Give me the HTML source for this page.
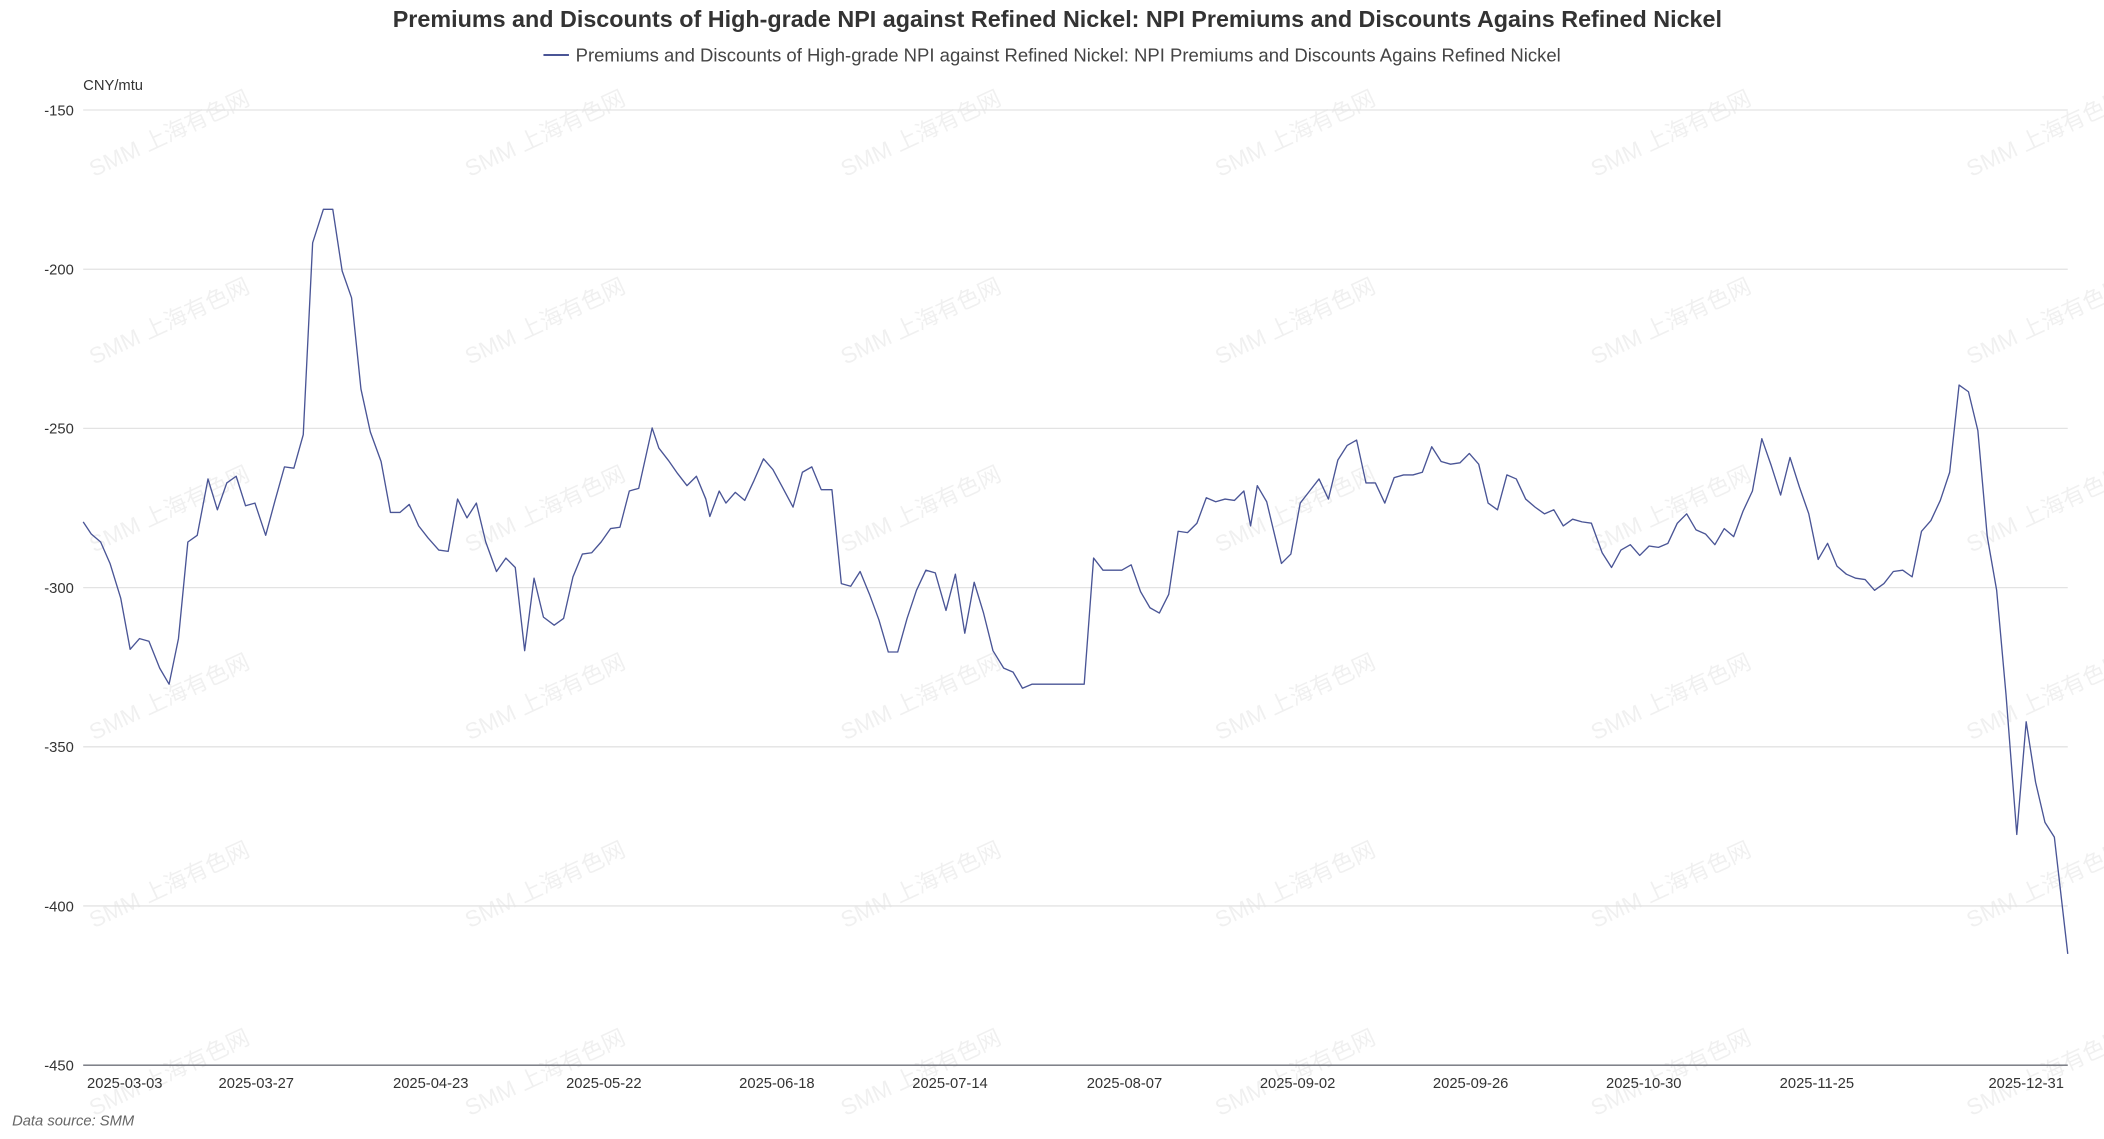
<!DOCTYPE html>
<html><head><meta charset="utf-8"><style>html,body{margin:0;padding:0;background:#fff}svg{display:block}</style></head>
<body>
<svg width="2104" height="1139" viewBox="0 0 1568 849" preserveAspectRatio="none" xmlns="http://www.w3.org/2000/svg" font-family="'Liberation Sans','Noto Sans CJK SC',sans-serif">
<g fill="#000" fill-opacity="0.06" font-size="17">
<g id="wm">
<text transform="translate(70,132) rotate(-25)">SMM 上海有色网</text>
<text transform="translate(70,272) rotate(-25)">SMM 上海有色网</text>
<text transform="translate(70,412) rotate(-25)">SMM 上海有色网</text>
<text transform="translate(70,552) rotate(-25)">SMM 上海有色网</text>
<text transform="translate(70,692) rotate(-25)">SMM 上海有色网</text>
<text transform="translate(70,832) rotate(-25)">SMM 上海有色网</text>
</g>
<use href="#wm" x="280"/><use href="#wm" x="560"/><use href="#wm" x="839"/><use href="#wm" x="1119"/><use href="#wm" x="1399"/>
</g>
<text x="788" y="20" text-anchor="middle" font-size="17.4" font-weight="bold" fill="#333">Premiums and Discounts of High-grade NPI against Refined Nickel: NPI Premiums and Discounts Agains Refined Nickel</text>
<line x1="405" y1="41" x2="424" y2="41" stroke="#4a5596" stroke-width="1.5"/>
<text x="429" y="46" font-size="13.8" fill="#444">Premiums and Discounts of High-grade NPI against Refined Nickel: NPI Premiums and Discounts Agains Refined Nickel</text>
<text x="62" y="67" font-size="11" fill="#333">CNY/mtu</text>
<g stroke="#e3e3e3" stroke-width="1">
<line x1="62" x2="1541" y1="82" y2="82"/><line x1="62" x2="1541" y1="200.7" y2="200.7"/><line x1="62" x2="1541" y1="319.3" y2="319.3"/><line x1="62" x2="1541" y1="438" y2="438"/><line x1="62" x2="1541" y1="556.7" y2="556.7"/><line x1="62" x2="1541" y1="675.3" y2="675.3"/>
</g>
<line x1="62" x2="1541" y1="794" y2="794" stroke="#6e7079" stroke-width="1"/>
<g font-size="11" fill="#333" text-anchor="end">
<text x="55" y="86">-150</text><text x="55" y="204.7">-200</text><text x="55" y="323.3">-250</text><text x="55" y="442">-300</text><text x="55" y="560.7">-350</text><text x="55" y="679.3">-400</text><text x="55" y="798">-450</text>
</g>
<g font-size="11" fill="#333" text-anchor="middle">
<text x="93" y="811">2025-03-03</text><text x="191" y="811">2025-03-27</text><text x="321" y="811">2025-04-23</text><text x="450" y="811">2025-05-22</text><text x="579" y="811">2025-06-18</text><text x="708" y="811">2025-07-14</text><text x="838" y="811">2025-08-07</text><text x="967" y="811">2025-09-02</text><text x="1096" y="811">2025-09-26</text><text x="1225" y="811">2025-10-30</text><text x="1354" y="811">2025-11-25</text><text x="1510" y="811">2025-12-31</text>
</g>
<text x="9" y="839" font-size="11" font-style="italic" fill="#666">Data source:  SMM</text>
<polyline fill="none" stroke="#4a5596" stroke-width="1" stroke-linejoin="round" points="62,389 68,398 75,404 82,420 90,446 97,484 104,476 111,478 119,498 126,510 133,476 140,404 147,399 155,357 162,380 169,360 176,355 183,377 190,375 198,399 205,373 212,348 219,349 226,324 233,181 241,156 248,156 255,202 262,222 269,290 276,322 284,344 291,382 298,382 305,376 312,392 319,401 327,410 334,411 341,372 348,386 355,375 362,404 370,426 377,416 384,423 391,485 398,431 405,460 413,466 420,461 427,430 434,413 441,412 448,404 455,394 462,393 469,366 476,364 486,319 491,334 498,343 505,353 512,362 519,355 526,372 529,385 536,366 541,375 548,367 555,373 562,358 569,342 576,350 583,363 591,378 598,352 605,348 612,365 620,365 627,435 634,437 641,426 648,443 655,462 662,486 669,486 676,461 683,440 690,425 697,427 705,455 712,428 719,472 726,434 733,457 740,485 748,498 755,501 762,513 769,510 776,510 783,510 790,510 797,510 804,510 808,510 815,416 822,425 829,425 836,425 843,421 850,441 857,453 864,457 871,443 878,396 885,397 892,390 899,371 906,374 913,372 920,373 927,366 932,392 937,362 944,374 955,420 962,413 969,375 976,366 983,357 990,372 997,343 1004,332 1011,328 1018,360 1025,360 1032,375 1039,356 1046,354 1053,354 1060,352 1067,333 1074,344 1081,346 1088,345 1095,338 1102,346 1109,375 1116,380 1123,354 1130,357 1137,372 1144,378 1151,383 1158,380 1165,392 1172,387 1179,389 1186,390 1194,412 1201,423 1208,410 1215,406 1222,414 1229,407 1236,408 1243,405 1250,390 1257,383 1264,395 1271,398 1278,406 1285,394 1292,400 1299,381 1306,366 1313,327 1320,347 1327,369 1334,341 1341,363 1348,383 1355,417 1362,405 1369,422 1376,428 1383,431 1390,432 1397,440 1404,435 1411,426 1418,425 1425,430 1432,396 1439,388 1446,373 1453,352 1460,287 1467,292 1474,321 1481,400 1488,440 1495,518 1503,622 1510,538 1517,583 1524,613 1531,624 1541,711"/>
</svg>
</body></html>
